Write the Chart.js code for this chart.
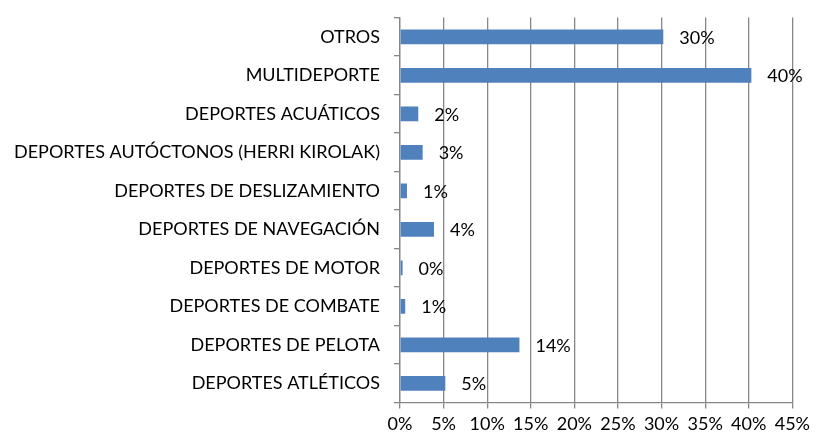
<!DOCTYPE html>
<html>
<head>
<meta charset="utf-8">
<script src="https://cdn.jsdelivr.net/npm/chart.js@4/dist/chart.umd.min.js"></script>
<style>
  body { margin: 0; background: #fff; }
  #chart { display: block; }
</style>
</head>
<body>
<canvas id="chart" width="818" height="439"></canvas>
<script>
// categories, top to bottom as in the picture
var categorias = [
  "OTROS",
  "MULTIDEPORTE",
  "DEPORTES ACUÁTICOS",
  "DEPORTES AUTÓCTONOS (HERRI KIROLAK)",
  "DEPORTES DE DESLIZAMIENTO",
  "DEPORTES DE NAVEGACIÓN",
  "DEPORTES DE MOTOR",
  "DEPORTES DE COMBATE",
  "DEPORTES DE PELOTA",
  "DEPORTES ATLÉTICOS"
];
// percent values
var porcentajes = [30.2, 40.3, 2.1, 2.6, 0.8, 3.9, 0.3, 0.6, 13.7, 5.2];
var ejeMin = 0;
var ejeMax = 45;
var ejePaso = 5;

var AZUL = "#4F81BD";
var GRIS = "#878787";
var FUENTE = "Lato, sans-serif";
var TAM = 18;

// value labels to the right of every bar
var etiquetas = {
  id: "etiquetas",
  afterDatasetsDraw: function(chart) {
    var ctx = chart.ctx;
    var meta = chart.getDatasetMeta(0);
    ctx.save();
    ctx.font = TAM + "px " + FUENTE;
    ctx.fillStyle = "#000";
    ctx.textAlign = "left";
    ctx.textBaseline = "middle";
    meta.data.forEach(function(bar, i) {
      ctx.fillText(Math.round(porcentajes[i]) + "%", bar.x + 16, bar.y + 1);
    });
    ctx.restore();
  }
};

var grafico = new Chart(document.getElementById("chart"), {
  type: "bar",
  data: {
    labels: categorias,
    datasets: [{
      data: porcentajes,
      backgroundColor: AZUL,
      borderWidth: 0,
      barPercentage: 0.77,
      categoryPercentage: 0.5
    }]
  },
  options: {
    indexAxis: "y",
    responsive: false,
    animation: false,
    layout: { padding: { top: 6, right: 2, bottom: 0, left: 0 } },
    plugins: {
      legend: { display: false },
      title: { display: false },
      tooltip: { enabled: false }
    },
    scales: {
      x: {
        min: ejeMin,
        max: ejeMax,
        ticks: {
          stepSize: ejePaso,
          color: "#000",
          font: { size: TAM, family: FUENTE, lineHeight: 0.8 },
          padding: 8,
          callback: function(v) { return v + "%"; }
        },
        grid: { color: GRIS, lineWidth: 1.3, tickLength: 6 },
        border: { color: GRIS, width: 1.3 }
      },
      y: {
        ticks: {
          color: "#000",
          font: { size: TAM, family: FUENTE, lineHeight: 0.4 },
          padding: 14
        },
        grid: { drawOnChartArea: false, color: GRIS, lineWidth: 1.3, tickLength: 6, offset: true },
        border: { color: GRIS, width: 1.3 }
      }
    }
  },
  plugins: [etiquetas]
});
</script>
</body>
</html>
